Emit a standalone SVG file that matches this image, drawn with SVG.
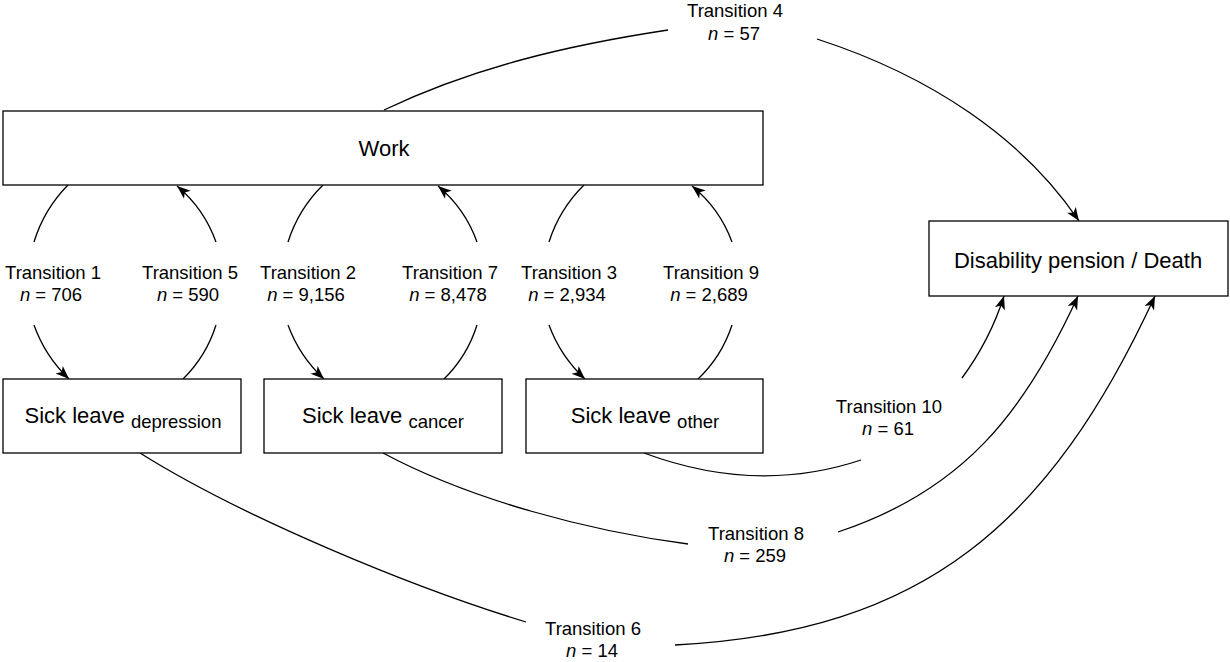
<svg xmlns="http://www.w3.org/2000/svg" width="1230" height="662" viewBox="0 0 1230 662">
<defs>
<style>
.box{fill:#fff;stroke:#000;stroke-width:1.3}
.ln{fill:none;stroke:#000;stroke-width:1.3}
.arr{marker-end:url(#ah)}
.bl{font-family:"Liberation Sans",Arial,Helvetica,sans-serif;font-size:22px;fill:#000;text-anchor:middle}
.tl{font-family:"Liberation Sans",Arial,Helvetica,sans-serif;font-size:18.5px;fill:#000;text-anchor:middle}
.sub{font-size:18.5px}
.it{font-style:italic}
</style>
<marker id="ah" markerWidth="16" markerHeight="13" viewBox="-15 -6.5 16 13" refX="0" refY="0" orient="auto" markerUnits="userSpaceOnUse">
<path d="M0,0 L-13.5,-5.2 L-10,0 L-13.5,5.2 Z" fill="#000"/>
</marker>
</defs>
<rect width="1230" height="662" fill="#fff"/>

<g id="connectors">
<!-- T1 -->
<path class="ln" d="M68,185 A139,139 0 0,0 34,242"/>
<path class="ln arr" d="M34,325 A139,139 0 0,0 69,379"/>
<!-- T5 -->
<path class="ln" d="M183,379 A130,130 0 0,0 216,325"/>
<path class="ln arr" d="M216,242 A130,130 0 0,0 177,186"/>
<!-- T2 -->
<path class="ln" d="M323,185 A139,139 0 0,0 288,242"/>
<path class="ln arr" d="M288,325 A139,139 0 0,0 324,379"/>
<!-- T7 -->
<path class="ln" d="M444,379 A130,130 0 0,0 477,325"/>
<path class="ln arr" d="M477,242 A130,130 0 0,0 438,186"/>
<!-- T3 -->
<path class="ln" d="M584,185 A139,139 0 0,0 549,242"/>
<path class="ln arr" d="M549,325 A139,139 0 0,0 585,379"/>
<!-- T9 -->
<path class="ln" d="M698,379 A130,130 0 0,0 732,325"/>
<path class="ln arr" d="M732,242 A130,130 0 0,0 692,186"/>
<!-- T4 -->
<path class="ln" d="M384,110 C474,67 569,45 668,30"/>
<path class="ln arr" d="M817,39 C931,76 1023,138 1079,221"/>
<!-- T10 -->
<path class="ln" d="M644,453 C722,482 795,482 861,460"/>
<path class="ln arr" d="M962,378 Q990,340 1004,296"/>
<!-- T8 -->
<path class="ln" d="M383,453 C471,500 589,531 688,544"/>
<path class="ln arr" d="M838,532 C962,491 1024,414 1078,296"/>
<!-- T6 -->
<path class="ln" d="M140,453 C242,517 411,587 526,622"/>
<path class="ln arr" d="M675,645 C925,632 1050,523 1155,296"/>

<g id="labels">
<text class="tl" x="53" y="279">Transition 1</text>
<text class="tl" x="51" y="301"><tspan class="it">n</tspan> = 706</text>
<text class="tl" x="190" y="279">Transition 5</text>
<text class="tl" x="188" y="301"><tspan class="it">n</tspan> = 590</text>
<text class="tl" x="308" y="279">Transition 2</text>
<text class="tl" x="306" y="301"><tspan class="it">n</tspan> = 9,156</text>
<text class="tl" x="450" y="279">Transition 7</text>
<text class="tl" x="448" y="301"><tspan class="it">n</tspan> = 8,478</text>
<text class="tl" x="569" y="279">Transition 3</text>
<text class="tl" x="567" y="301"><tspan class="it">n</tspan> = 2,934</text>
<text class="tl" x="711" y="279">Transition 9</text>
<text class="tl" x="709" y="301"><tspan class="it">n</tspan> = 2,689</text>
<text class="tl" x="735" y="17">Transition 4</text>
<text class="tl" x="734" y="40"><tspan class="it">n</tspan> = 57</text>
<text class="tl" x="889" y="413">Transition 10</text>
<text class="tl" x="888" y="435"><tspan class="it">n</tspan> = 61</text>
<text class="tl" x="756" y="540">Transition 8</text>
<text class="tl" x="755" y="562"><tspan class="it">n</tspan> = 259</text>
<text class="tl" x="593" y="635">Transition 6</text>
<text class="tl" x="592" y="657"><tspan class="it">n</tspan> = 14</text>
</g>
</g>

<g id="work">
<rect class="box" x="3" y="111" width="760" height="74"/>
<text class="bl" x="384" y="156">Work</text>
</g>
<g id="sick-depression">
<rect class="box" x="3" y="379" width="238" height="74"/>
<text class="bl" x="123" y="423">Sick leave <tspan class="sub" dy="5">depression</tspan></text>
</g>
<g id="sick-cancer">
<rect class="box" x="264" y="379" width="238" height="74"/>
<text class="bl" x="383" y="423">Sick leave <tspan class="sub" dy="5">cancer</tspan></text>
</g>
<g id="sick-other">
<rect class="box" x="526" y="379" width="237" height="74"/>
<text class="bl" x="645" y="423">Sick leave <tspan class="sub" dy="5">other</tspan></text>
</g>
<g id="disability">
<rect class="box" x="929" y="221" width="299" height="75"/>
<text class="bl" x="1078" y="268">Disability pension / Death</text>
</g>
</svg>
